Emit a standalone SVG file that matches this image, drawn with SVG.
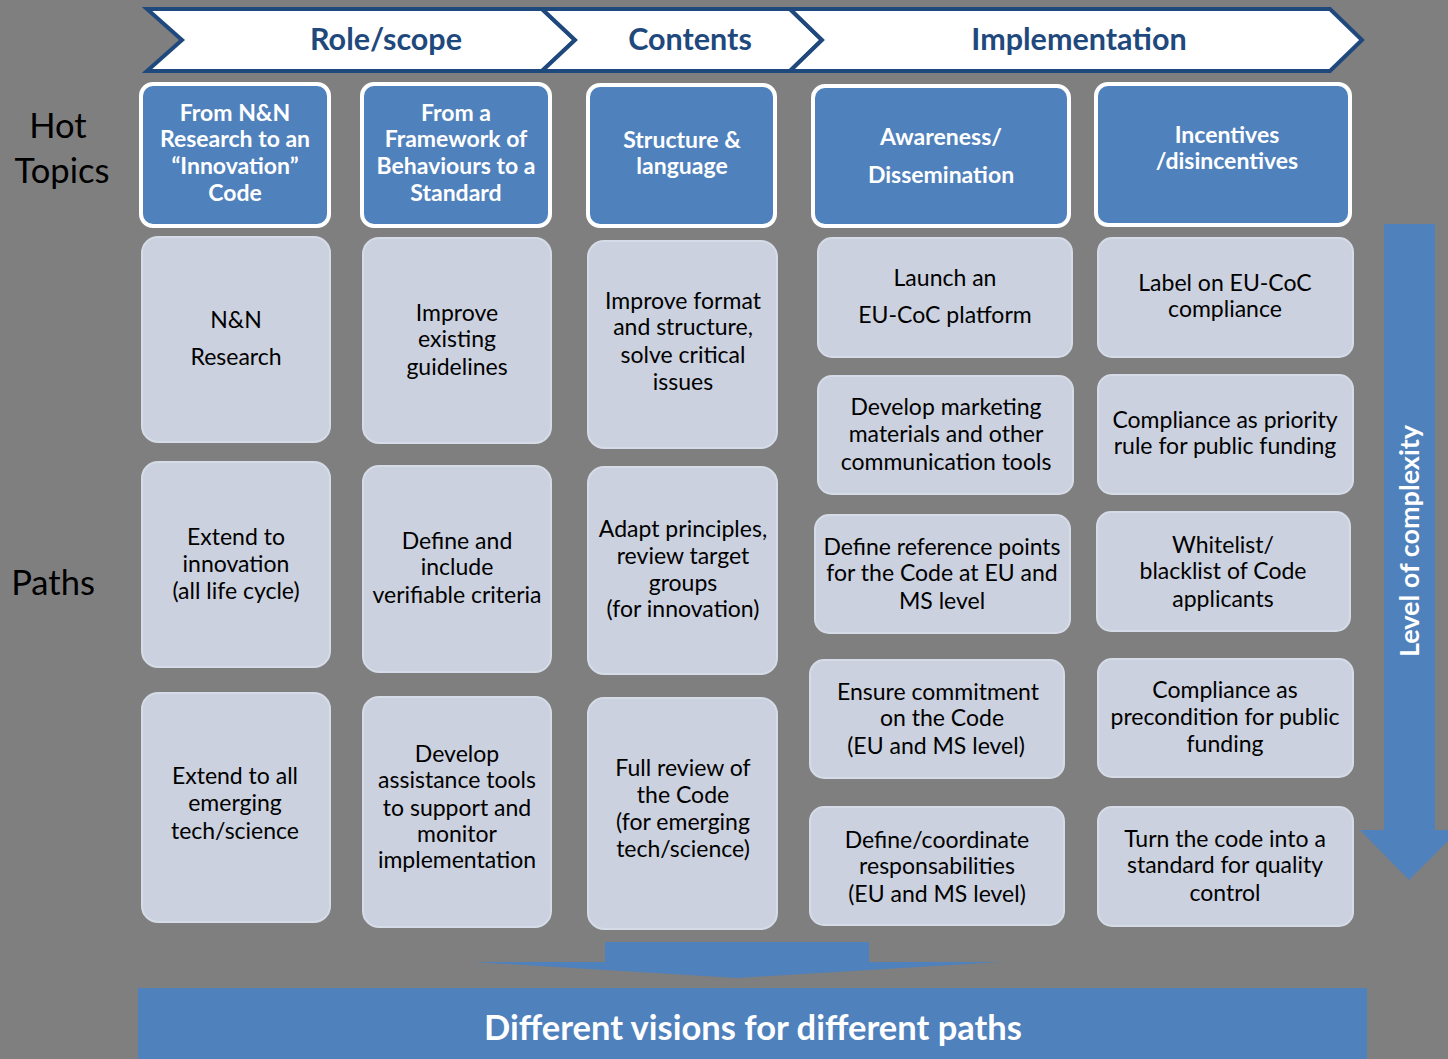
<svg xmlns="http://www.w3.org/2000/svg" width="1448" height="1059" viewBox="0 0 1448 1059">
<style>
.bg{fill:#7f7f7f}
.chev{fill:#ffffff;stroke:#1f497d;stroke-width:4;stroke-linejoin:miter}
.chevt{font-family:Lato,"Liberation Sans",sans-serif;font-weight:bold;font-size:30.5px;fill:#1f497d;text-anchor:middle}
.hdr{fill:#4f81bd;stroke:#ffffff;stroke-width:4}
.hdrt{font-family:Lato,"Liberation Sans",sans-serif;font-weight:bold;font-size:23px;fill:#ffffff;text-anchor:middle}
.box{fill:#cbd1de;stroke:#d5dbe7;stroke-width:2}
.boxt{font-family:Lato,"Liberation Sans",sans-serif;font-size:23px;fill:#000000;text-anchor:middle}
.side{font-family:Lato,"Liberation Sans",sans-serif;font-size:34.5px;fill:#000000;text-anchor:middle}
.blue{fill:#4f81bd}
.wt{font-family:Lato,"Liberation Sans",sans-serif;font-weight:bold;fill:#ffffff;text-anchor:middle}
</style>
<rect class="bg" x="0" y="0" width="1448" height="1059"/>

<g id="phases">
<g id="phase-role">
<path class="chev" d="M147,9 L542,9 L575,40 L542,71 L147,71 L182,40 Z"/>
<text class="chevt" x="386" y="50">Role/scope</text>
</g>
<g id="phase-contents">
<path class="chev" d="M542,9 L790,9 L822,40 L790,71 L542,71 L575,40 Z"/>
<text class="chevt" x="690" y="50">Contents</text>
</g>
<g id="phase-impl">
<path class="chev" d="M790,9 L1330,9 L1362,40 L1330,71 L790,71 L822,40 Z"/>
<text class="chevt" x="1079" y="50">Implementation</text>
</g>
</g>

<g id="side-labels">
<text class="side" x="58" y="138">Hot</text>
<text class="side" x="62" y="183">Topics</text>
<text class="side" x="53" y="595">Paths</text>
</g>

<g id="connectors">
<polygon class="blue" points="1384,224 1435,224 1435,830 1459,830 1409,880 1360,830 1384,830"/>
<polygon class="blue" points="605,942 869,942 869,962 1000,962 737,978 473,962 605,962"/>
</g>

<g id="complexity-label">
<text class="wt" font-size="27" transform="translate(1419,541) rotate(-90)">Level of complexity</text>
</g>

<g id="hot1"><rect class="hdr" x="141" y="84" width="188" height="142" rx="12"/>
<text class="hdrt"><tspan x="235" y="121">From N&amp;N</tspan><tspan x="235" y="147">Research to an</tspan><tspan x="235" y="174">“Innovation”</tspan><tspan x="235" y="201">Code</tspan></text></g>
<g id="hot2"><rect class="hdr" x="362" y="84" width="188" height="142" rx="12"/>
<text class="hdrt"><tspan x="456" y="121">From a</tspan><tspan x="456" y="147">Framework of</tspan><tspan x="456" y="174">Behaviours to a</tspan><tspan x="456" y="201">Standard</tspan></text></g>
<g id="hot3"><rect class="hdr" x="588" y="85" width="187" height="141" rx="12"/>
<text class="hdrt"><tspan x="682" y="148">Structure &amp;</tspan><tspan x="682" y="174">language</tspan></text></g>
<g id="hot4"><rect class="hdr" x="813" y="86" width="256" height="140" rx="12"/>
<text class="hdrt"><tspan x="941" y="145">Awareness/</tspan><tspan x="941" y="183">Dissemination</tspan></text></g>
<g id="hot5"><rect class="hdr" x="1096" y="84" width="254" height="141" rx="12"/>
<text class="hdrt"><tspan x="1227" y="143">Incentives</tspan><tspan x="1227" y="169">/disincentives</tspan></text></g>

<g id="c1r1"><rect class="box" x="142" y="237" width="188" height="205" rx="16"/>
<text class="boxt"><tspan x="236" y="328">N&amp;N</tspan><tspan x="236" y="365">Research</tspan></text></g>
<g id="c1r2"><rect class="box" x="142" y="462" width="188" height="205" rx="16"/>
<text class="boxt"><tspan x="236" y="545">Extend to</tspan><tspan x="236" y="572">innovation</tspan><tspan x="236" y="599">(all life cycle)</tspan></text></g>
<g id="c1r3"><rect class="box" x="142" y="693" width="188" height="229" rx="16"/>
<text class="boxt"><tspan x="235" y="784">Extend to all</tspan><tspan x="235" y="811">emerging</tspan><tspan x="235" y="839">tech/science</tspan></text></g>

<g id="c2r1"><rect class="box" x="363" y="238" width="188" height="205" rx="16"/>
<text class="boxt"><tspan x="457" y="321">Improve</tspan><tspan x="457" y="347">existing</tspan><tspan x="457" y="375">guidelines</tspan></text></g>
<g id="c2r2"><rect class="box" x="363" y="466" width="188" height="206" rx="16"/>
<text class="boxt"><tspan x="457" y="549">Define and</tspan><tspan x="457" y="575">include</tspan><tspan x="457" y="603">verifiable criteria</tspan></text></g>
<g id="c2r3"><rect class="box" x="363" y="697" width="188" height="230" rx="16"/>
<text class="boxt"><tspan x="457" y="762">Develop</tspan><tspan x="457" y="788">assistance tools</tspan><tspan x="457" y="816">to support  and</tspan><tspan x="457" y="842">monitor</tspan><tspan x="457" y="868">implementation</tspan></text></g>

<g id="c3r1"><rect class="box" x="588" y="241" width="189" height="207" rx="16"/>
<text class="boxt"><tspan x="683" y="309">Improve format</tspan><tspan x="683" y="335">and structure,</tspan><tspan x="683" y="363">solve critical</tspan><tspan x="683" y="390">issues</tspan></text></g>
<g id="c3r2"><rect class="box" x="588" y="467" width="189" height="207" rx="16"/>
<text class="boxt"><tspan x="683" y="537">Adapt principles,</tspan><tspan x="683" y="564">review target</tspan><tspan x="683" y="591">groups</tspan><tspan x="683" y="617">(for innovation)</tspan></text></g>
<g id="c3r3"><rect class="box" x="588" y="698" width="189" height="231" rx="16"/>
<text class="boxt"><tspan x="683" y="776">Full review of</tspan><tspan x="683" y="803">the Code</tspan><tspan x="683" y="830">(for emerging</tspan><tspan x="683" y="857">tech/science)</tspan></text></g>

<g id="c4r1"><rect class="box" x="818" y="238" width="254" height="119" rx="14"/>
<text class="boxt"><tspan x="945" y="286">Launch an</tspan><tspan x="945" y="323">EU-CoC platform</tspan></text></g>
<g id="c4r2"><rect class="box" x="818" y="376" width="255" height="118" rx="14"/>
<text class="boxt"><tspan x="946" y="415">Develop marketing</tspan><tspan x="946" y="442">materials and other</tspan><tspan x="946" y="470">communication tools</tspan></text></g>
<g id="c4r3"><rect class="box" x="815" y="515" width="255" height="118" rx="14"/>
<text class="boxt"><tspan x="942" y="555">Define reference points</tspan><tspan x="942" y="581">for the Code at EU and</tspan><tspan x="942" y="609">MS level</tspan></text></g>
<g id="c4r4"><rect class="box" x="810" y="660" width="254" height="118" rx="14"/>
<text class="boxt"><tspan x="938" y="700">Ensure commitment</tspan><tspan x="942" y="726">on the Code</tspan><tspan x="936" y="754">(EU and MS level)</tspan></text></g>
<g id="c4r5"><rect class="box" x="810" y="807" width="254" height="118" rx="14"/>
<text class="boxt"><tspan x="937" y="848">Define/coordinate</tspan><tspan x="937" y="874">responsabilities</tspan><tspan x="937" y="902">(EU and MS level)</tspan></text></g>

<g id="c5r1"><rect class="box" x="1098" y="238" width="255" height="119" rx="14"/>
<text class="boxt"><tspan x="1225" y="291">Label on EU-CoC</tspan><tspan x="1225" y="317">compliance</tspan></text></g>
<g id="c5r2"><rect class="box" x="1098" y="375" width="255" height="119" rx="14"/>
<text class="boxt"><tspan x="1225" y="428">Compliance as priority</tspan><tspan x="1225" y="454">rule for public funding</tspan></text></g>
<g id="c5r3"><rect class="box" x="1097" y="512" width="253" height="119" rx="14"/>
<text class="boxt"><tspan x="1223" y="553">Whitelist/</tspan><tspan x="1223" y="579">blacklist of Code</tspan><tspan x="1223" y="607">applicants</tspan></text></g>
<g id="c5r4"><rect class="box" x="1098" y="659" width="255" height="118" rx="14"/>
<text class="boxt"><tspan x="1225" y="698">Compliance as</tspan><tspan x="1225" y="725">precondition  for public</tspan><tspan x="1225" y="752">funding</tspan></text></g>
<g id="c5r5"><rect class="box" x="1098" y="807" width="255" height="119" rx="14"/>
<text class="boxt"><tspan x="1225" y="847">Turn the code into a</tspan><tspan x="1225" y="873">standard for quality</tspan><tspan x="1225" y="901">control</tspan></text></g>

<g id="vision">
<rect class="blue" x="138" y="988" width="1229" height="71"/>
<text class="wt" font-size="34.5" x="753" y="1040">Different visions for different paths</text>
</g>
</svg>
